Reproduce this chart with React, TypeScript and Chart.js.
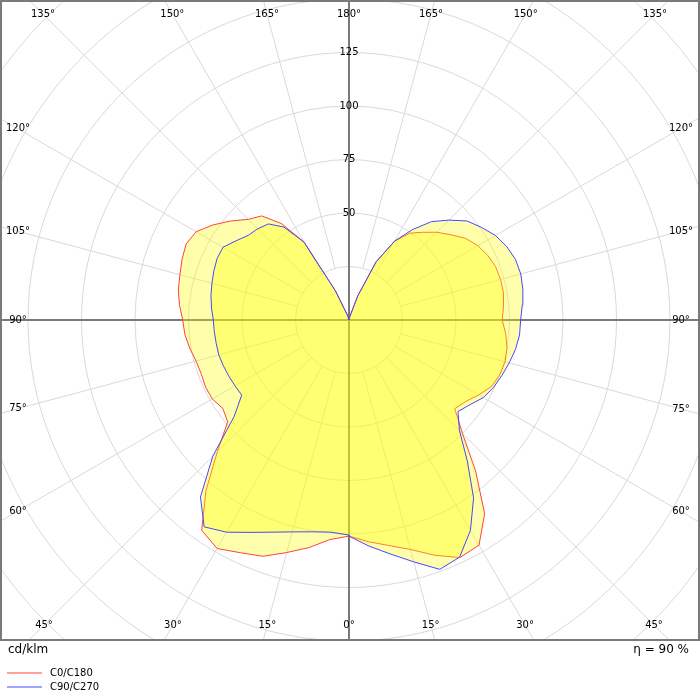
import { useEffect, useRef } from "react";
import { Chart, registerables } from "chart.js";

Chart.register(...registerables);

// Gamma angles (degrees, 0 = straight down, 180 = straight up)
const gammaAngles = [
  0, 5, 10, 15, 20, 25, 30, 35, 40, 45, 50, 55, 60, 65, 70, 75, 80, 85, 90,
  95, 100, 105, 110, 115, 120, 125, 130, 135, 140, 145, 150, 155, 160, 165, 170, 175, 180,
];

// Luminous intensity (cd/klm) per C-plane
const c0Values = [
  101, 104, 107, 111, 117, 122.5, 121.5, 110.5, 92, 75, 64.5, 66.5, 70, 73.5, 75, 75.5, 75, 73.5, 71.6,
  72.5, 73.3, 73.3, 72.9, 71.5, 69.5, 66.5, 62, 58, 53.5, 49.5, 42.5, 30, 12, 2, 0.5, 0, 0,
];
const c180Values = [
  101, 103, 108, 112.5, 117.5, 120, 123.3, 120, 104, 87, 74, 72, 73.8, 74, 73.5, 74, 75.6, 77, 77.7,
  79.5, 81, 81.8, 83, 84, 82.5, 77.5, 72, 66.5, 63.5, 55, 42, 15, 3, 1, 0.3, 0, 0,
];
const c90Values = [
  101, 106, 111, 117, 124, 122.3, 113.5, 101.5, 86, 73, 66.5, 69, 72.5, 74.5, 76, 77.5, 79, 80, 80.2,
  81.3, 82.5, 83.1, 82.8, 81.3, 79, 75.5, 72, 66, 60, 51.5, 42.5, 30, 12, 2, 0.5, 0, 0,
];
const c270Values = [
  100.5, 99.5, 100.5, 102.5, 105.5, 109.5, 114.5, 118, 108, 90, 70, 61.2, 61.5, 62, 62.5, 63, 63, 63.2, 63.4,
  64.5, 65.5, 66.3, 67.2, 68, 68, 64.5, 61.5, 60.3, 58.6, 53, 42, 15, 3, 1, 0.3, 0, 0,
];

const seriesLabels = ["C0/C180", "C90/C270"];
const ringValues = [25, 50, 75, 100, 125, 150, 175, 200, 225, 250];
const ringLabelValues = [50, 75, 100, 125];
const angleTickValues = [0, 15, 30, 45, 60, 75, 90, 105, 120, 135, 150, 165, 180];
const unitText = "cd/klm";
const efficiencyText = "η = 90 %";

const RED = "rgb(255,64,64)";
const BLUE = "rgb(70,70,255)";
const FILL = "rgba(255,255,0,0.33)";
const GRID = "#d9d9d9";
const AXIS = "#7a7a7a";
const FONT = "DejaVu Sans";

function polarPoints(rightSide: number[], leftSide: number[]) {
  const pts: { x: number; y: number }[] = [];
  gammaAngles.forEach((g, i) => {
    const a = (g * Math.PI) / 180;
    pts.push({ x: rightSide[i] * Math.sin(a), y: -rightSide[i] * Math.cos(a) });
  });
  for (let i = gammaAngles.length - 1; i >= 0; i--) {
    const a = (gammaAngles[i] * Math.PI) / 180;
    pts.push({ x: -leftSide[i] * Math.sin(a), y: -leftSide[i] * Math.cos(a) });
  }
  pts.push({ ...pts[0] });
  return pts;
}

const polarGrid = {
  id: "polarGrid",
  beforeDatasetsDraw(chart: any) {
    const { ctx, chartArea: a, scales } = chart;
    const cx = scales.x.getPixelForValue(0);
    const cy = scales.y.getPixelForValue(0);
    const k = scales.x.getPixelForValue(1) - cx;
    ctx.save();
    ctx.beginPath();
    ctx.rect(a.left, a.top, a.right - a.left, a.bottom - a.top);
    ctx.clip();
    ctx.strokeStyle = GRID;
    ctx.lineWidth = 1;
    ringValues.forEach((v) => {
      ctx.beginPath();
      ctx.arc(cx, cy, v * k, 0, Math.PI * 2);
      ctx.stroke();
    });
    const r0 = ringValues[0] * k;
    angleTickValues.forEach((g) => {
      if (g % 90 === 0) return;
      const rad = (g * Math.PI) / 180;
      [1, -1].forEach((s) => {
        const dx = s * Math.sin(rad);
        const dy = Math.cos(rad);
        ctx.beginPath();
        ctx.moveTo(cx + dx * r0, cy + dy * r0);
        ctx.lineTo(cx + dx * 1200, cy + dy * 1200);
        ctx.stroke();
      });
    });
    ctx.strokeStyle = AXIS;
    ctx.lineWidth = 2;
    ctx.beginPath();
    ctx.moveTo(a.left, cy);
    ctx.lineTo(a.right, cy);
    ctx.moveTo(cx, a.top);
    ctx.lineTo(cx, a.bottom);
    ctx.stroke();
    ctx.restore();
  },
  afterDraw(chart: any) {
    const { ctx, chartArea: a, scales } = chart;
    const cx = scales.x.getPixelForValue(0);
    const cy = scales.y.getPixelForValue(0);
    const k = scales.x.getPixelForValue(1) - cx;
    ctx.save();
    // ring labels
    ctx.fillStyle = "#000";
    ctx.font = `10px "${FONT}"`;
    ctx.textAlign = "center";
    ctx.textBaseline = "middle";
    ringLabelValues.forEach((v) => {
      ctx.fillText(String(v), cx, cy - v * k);
    });
    // angle labels on inset rectangle
    const L = a.left + 17, R = a.right - 18, T = a.top + 13, B = a.bottom - 15;
    angleTickValues.forEach((g) => {
      const rad = (g * Math.PI) / 180;
      const sides = g === 0 || g === 180 ? [1] : [1, -1];
      sides.forEach((s) => {
        const dx = s * Math.sin(rad);
        const dy = Math.cos(rad);
        let t = Infinity;
        if (dx > 1e-9) t = Math.min(t, (R - cx) / dx);
        if (dx < -1e-9) t = Math.min(t, (L - cx) / dx);
        if (dy > 1e-9) t = Math.min(t, (B - cy) / dy);
        if (dy < -1e-9) t = Math.min(t, (T - cy) / dy);
        ctx.fillText(`${g}°`, cx + dx * t, cy + dy * t);
      });
    });
    // frame
    ctx.strokeStyle = AXIS;
    ctx.lineWidth = 2;
    ctx.strokeRect(a.left, a.top, a.right - a.left, a.bottom - a.top);
    // footer texts
    ctx.fillStyle = "#000";
    ctx.font = `12px "${FONT}"`;
    ctx.textBaseline = "alphabetic";
    ctx.textAlign = "left";
    ctx.fillText(unitText, a.left + 7, a.bottom + 13);
    ctx.textAlign = "right";
    ctx.fillText(efficiencyText, a.right - 10, a.bottom + 13);
    // legend
    ctx.font = `10px "${FONT}"`;
    ctx.textAlign = "left";
    ctx.textBaseline = "middle";
    chart.data.datasets.forEach((ds: any, i: number) => {
      const yy = a.bottom + 33 + i * 14;
      ctx.strokeStyle = ds.borderColor;
      ctx.lineWidth = 1;
      ctx.beginPath();
      ctx.moveTo(a.left + 6, yy);
      ctx.lineTo(a.left + 41, yy);
      ctx.stroke();
      ctx.fillStyle = "#000";
      ctx.fillText(ds.label, a.left + 49, yy);
    });
    ctx.restore();
  },
};

export default function App() {
  const canvasRef = useRef<HTMLCanvasElement | null>(null);

  useEffect(() => {
    const canvas = canvasRef.current;
    if (!canvas) return;
    const unit = 2.14;
    const area = { left: 1, top: 1, right: 699, bottom: 640 };
    const center = { x: 349, y: 320 };
    const chart = new Chart(canvas, {
      type: "scatter",
      data: {
        datasets: [
          {
            label: seriesLabels[0],
            data: polarPoints(c0Values, c180Values),
            showLine: true,
            borderColor: RED,
            backgroundColor: FILL,
            borderWidth: 1,
            pointRadius: 0,
            tension: 0,
            fill: "shape",
            order: 2,
          },
          {
            label: seriesLabels[1],
            data: polarPoints(c90Values, c270Values),
            showLine: true,
            borderColor: BLUE,
            backgroundColor: FILL,
            borderWidth: 1,
            pointRadius: 0,
            tension: 0,
            fill: "shape",
            order: 1,
          },
        ] as any,
      },
      options: {
        animation: false,
        responsive: false,
        devicePixelRatio: 1,
        layout: {
          padding: { left: area.left, top: area.top, right: 700 - area.right, bottom: 700 - area.bottom },
        },
        scales: {
          x: {
            type: "linear",
            display: false,
            min: -(center.x - area.left) / unit,
            max: (area.right - center.x) / unit,
          },
          y: {
            type: "linear",
            display: false,
            min: -(area.bottom - center.y) / unit,
            max: (center.y - area.top) / unit,
          },
        },
        plugins: {
          legend: { display: false },
          tooltip: { enabled: false },
        },
        events: [],
      } as any,
      plugins: [polarGrid],
    });
    return () => chart.destroy();
  }, []);

  return (
    <div style={{ position: "fixed", left: 0, top: 0, width: 700, height: 700, background: "#fff" }}>
      <canvas ref={canvasRef} width={700} height={700} />
    </div>
  );
}
